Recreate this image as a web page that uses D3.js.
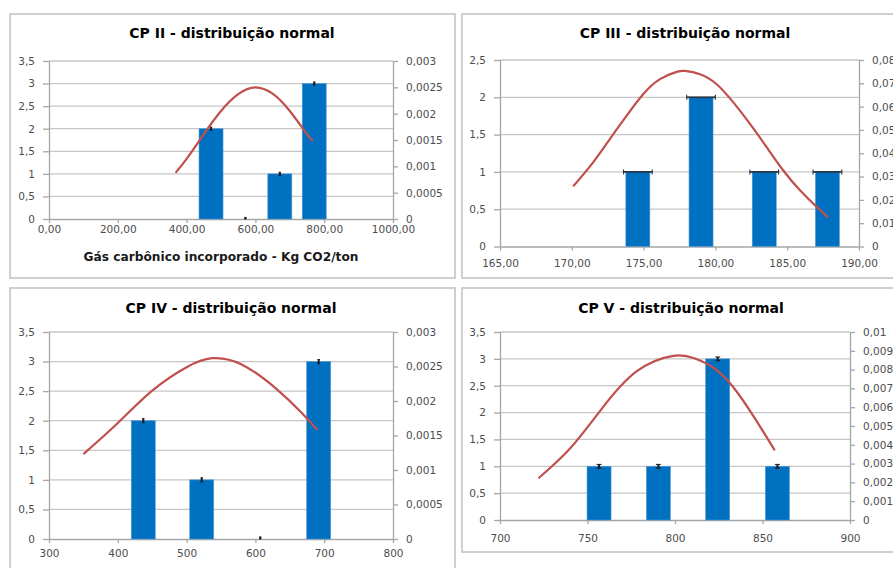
<!DOCTYPE html>
<html><head><meta charset="utf-8">
<script src="https://cdn.jsdelivr.net/npm/d3@7/dist/d3.min.js"></script>
<style>body{margin:0;background:#fff} svg{display:block}</style>
</head><body><svg id="c" width="893" height="568"></svg>
<script>
// ---------- CP II ----------
const cp2Title = "CP II - distribuição normal";
const cp2XLabel = "Gás carbônico incorporado - Kg CO2/ton";
const cp2Bins = [471, 571, 671, 771];
const cp2Counts = [2, 0, 1, 3];
const cp2CurveX = [368, 400, 450, 500, 550, 600, 650, 700, 750, 767];
const cp2CurveY = [0.00088, 0.00114, 0.00161, 0.00205, 0.00237, 0.0025, 0.00238, 0.00205, 0.00161, 0.00148];
const cp2XTicks = [0, 200, 400, 600, 800, 1000];
const cp2LeftTicks = [0, 0.5, 1, 1.5, 2, 2.5, 3, 3.5];
const cp2RightTicks = [0, 0.0005, 0.001, 0.0015, 0.002, 0.0025, 0.003];

// ---------- CP III ----------
const cp3Title = "CP III - distribuição normal";
const cp3Bins = [174.6, 179.0, 183.4, 187.8];
const cp3Counts = [1, 2, 1, 1];
const cp3CurveX = [170.1, 171.5, 172.66, 173.82, 174.98, 176.14, 177.3, 177.88, 178.93, 180.09, 181.25, 182.41, 183.57, 184.73, 185.89, 187.05, 187.86];
const cp3CurveY = [0.0258, 0.0362, 0.0462, 0.0561, 0.0654, 0.0718, 0.0749, 0.0753, 0.0739, 0.0696, 0.0618, 0.0526, 0.0426, 0.0326, 0.0241, 0.0170, 0.0125];
const cp3XTicks = [165, 170, 175, 180, 185, 190];
const cp3LeftTicks = [0, 0.5, 1, 1.5, 2, 2.5];
const cp3RightTicks = [0, 0.01, 0.02, 0.03, 0.04, 0.05, 0.06, 0.07, 0.08];

// ---------- CP IV ----------
const cp4Title = "CP IV - distribuição normal";
const cp4Bins = [437, 522, 607, 692];
const cp4Counts = [2, 1, 0, 3];
const cp4CurveX = [350, 400, 450, 500, 537, 580, 630, 665, 690];
const cp4CurveY = [0.00123, 0.00168, 0.00215, 0.00249, 0.00262, 0.00253, 0.00218, 0.00185, 0.00158];
const cp4XTicks = [300, 400, 500, 600, 700, 800];
const cp4LeftTicks = [0, 0.5, 1, 1.5, 2, 2.5, 3, 3.5];
const cp4RightTicks = [0, 0.0005, 0.001, 0.0015, 0.002, 0.0025, 0.003];

// ---------- CP V ----------
const cp5Title = "CP V - distribuição normal";
const cp5Bins = [756.6, 790.5, 824.4, 858.5];
const cp5Counts = [1, 1, 3, 1];
const cp5CurveX = [722, 740, 758, 778, 799, 811, 822, 833, 845, 857];
const cp5CurveY = [0.00222, 0.0038, 0.0059, 0.0079, 0.00873, 0.0086, 0.0081, 0.0071, 0.0055, 0.0037];
const cp5XTicks = [700, 750, 800, 850, 900];
const cp5LeftTicks = [0, 0.5, 1, 1.5, 2, 2.5, 3, 3.5];
const cp5RightTicks = [0, 0.001, 0.002, 0.003, 0.004, 0.005, 0.006, 0.007, 0.008, 0.009, 0.01];

const loc = d3.formatLocale({decimal: ",", thousands: ".", grouping: [3], currency: ["R$", ""]});
const fmt2 = loc.format(".2f");
const fmtG = loc.format("~g");
const fmtInt = loc.format("d");

const panels = [
  {title: cp2Title, xLabel: cp2XLabel, bins: cp2Bins, counts: cp2Counts, cx: cp2CurveX, cy: cp2CurveY,
   xt: cp2XTicks, lt: cp2LeftTicks, rt: cp2RightTicks, xf: fmt2, err: "v",
   frame: [10, 14, 455, 278], plot: [49, 61, 393, 219], titleX: 232, titleY: 38, xPad: 3},
  {title: cp3Title, bins: cp3Bins, counts: cp3Counts, cx: cp3CurveX, cy: cp3CurveY,
   xt: cp3XTicks, lt: cp3LeftTicks, rt: cp3RightTicks, xf: fmt2, err: "h",
   frame: [462, 14, 920, 278], plot: [500, 60, 859, 246.5], titleX: 685, titleY: 38, xPad: 9},
  {title: cp4Title, bins: cp4Bins, counts: cp4Counts, cx: cp4CurveX, cy: cp4CurveY,
   xt: cp4XTicks, lt: cp4LeftTicks, rt: cp4RightTicks, xf: fmtInt, err: "v",
   frame: [10, 288, 455, 600], plot: [49, 332, 393, 539], titleX: 231, titleY: 313, xPad: 7},
  {title: cp5Title, bins: cp5Bins, counts: cp5Counts, cx: cp5CurveX, cy: cp5CurveY,
   xt: cp5XTicks, lt: cp5LeftTicks, rt: cp5RightTicks, xf: fmtInt, err: "x",
   frame: [462, 288, 920, 552], plot: [500, 332, 850, 520], titleX: 681, titleY: 313, xPad: 11}
];

const svg = d3.select("#c");
const FONT = "DejaVu Sans, sans-serif";
const GRID = "#c6c6c6", AXIS = "#a6a6a6", TXT = "#4d4d4d";
const BLUE = "#0070C0", RED = "#C0504D";

panels.forEach(p => {
  const [fx0, fy0, fx1, fy1] = p.frame;
  const [px0, py0, px1, py1] = p.plot;
  const g = svg.append("g");
  g.append("rect").attr("x", fx0).attr("y", fy0).attr("width", fx1 - fx0).attr("height", fy1 - fy0)
    .attr("fill", "#fff").attr("stroke", "#c4c4c4").attr("stroke-width", 1.6);

  const x = d3.scaleLinear().domain(d3.extent(p.xt)).range([px0, px1]);
  const yL = d3.scaleLinear().domain([0, d3.max(p.lt)]).range([py1, py0]);
  const yR = d3.scaleLinear().domain([0, d3.max(p.rt)]).range([py1, py0]);

  // gridlines
  g.append("g").selectAll("line").data(p.lt.filter(v => v > 0)).join("line")
    .attr("x1", px0).attr("x2", px1).attr("y1", d => yL(d)).attr("y2", d => yL(d))
    .attr("stroke", GRID).attr("stroke-width", 1.3);

  // axes
  const styleAxis = sel => {
    sel.select(".domain").attr("stroke", AXIS).attr("stroke-width", 1.3);
    sel.selectAll(".tick line").attr("stroke", AXIS).attr("stroke-width", 1.3);
    sel.selectAll(".tick text").attr("fill", TXT).attr("font-family", FONT).attr("font-size", 10.5);
  };
  g.append("g").attr("transform", `translate(${px0},0)`)
    .call(d3.axisLeft(yL).tickValues(p.lt).tickFormat(fmtG).tickSizeInner(6).tickSizeOuter(0).tickPadding(8))
    .call(styleAxis);
  g.append("g").attr("transform", `translate(${px1},0)`)
    .call(d3.axisRight(yR).tickValues(p.rt).tickFormat(fmtG).tickSizeInner(5).tickSizeOuter(0).tickPadding(8))
    .call(styleAxis);
  g.append("g").attr("transform", `translate(0,${py1})`)
    .call(d3.axisBottom(x).tickValues(p.xt).tickFormat(p.xf).tickSizeInner(4).tickSizeOuter(0).tickPadding(p.xPad))
    .call(styleAxis);

  // bars
  const bw = 24;
  const bars = p.bins.map((b, i) => ({b, c: p.counts[i]}));
  g.append("g").selectAll("rect").data(bars).join("rect")
    .attr("x", d => x(d.b) - bw / 2).attr("width", bw)
    .attr("y", d => yL(d.c)).attr("height", d => yL(0) - yL(d.c))
    .attr("fill", BLUE).attr("stroke", "#4f9ad6").attr("stroke-width", 0.6);

  // error bars
  const eg = g.append("g").attr("stroke", "#1a1a1a");
  bars.forEach(d => {
    const cxp = x(d.b), cyp = yL(d.c);
    if (p.err === "h") {
      const xa = x(d.b - 1.0), xb = x(d.b + 1.0);
      eg.append("line").attr("x1", xa).attr("x2", xb).attr("y1", cyp).attr("y2", cyp).attr("stroke-width", 1.8).attr("stroke", "#263746");
      [xa, xb].forEach(xx => eg.append("line").attr("x1", xx).attr("x2", xx).attr("y1", cyp - 2.5).attr("y2", cyp + 2.5).attr("stroke-width", 1.1).attr("stroke", "#263746"));
    } else {
      const ya = yL(d.c + 0.035), yb = yL(Math.max(0, d.c - 0.035));
      eg.append("line").attr("x1", cxp).attr("x2", cxp).attr("y1", ya).attr("y2", yb).attr("stroke-width", 2);
      const cw = p.err === "x" ? 2.5 : 1.2;
      [ya, yb].forEach(yy => eg.append("line").attr("x1", cxp - cw).attr("x2", cxp + cw).attr("y1", yy).attr("y2", yy).attr("stroke-width", 1));
    }
  });

  // normal curve
  const pts = p.cx.map((v, i) => [v, p.cy[i]]);
  g.append("path").datum(pts)
    .attr("d", d3.line().x(d => x(d[0])).y(d => yR(d[1])).curve(d3.curveNatural))
    .attr("fill", "none").attr("stroke", RED).attr("stroke-width", 2.2);

  // title
  g.append("text").attr("x", p.titleX).attr("y", p.titleY).attr("text-anchor", "middle")
    .attr("font-family", FONT).attr("font-weight", "bold").attr("font-size", 14).attr("fill", "#000")
    .text(p.title);
  if (p.xLabel) {
    g.append("text").attr("x", (px0 + px1) / 2).attr("y", 261).attr("text-anchor", "middle")
      .attr("font-family", FONT).attr("font-weight", "bold").attr("font-size", 12.2).attr("fill", "#1a1a1a")
      .text(p.xLabel);
  }
});
</script></body></html>
